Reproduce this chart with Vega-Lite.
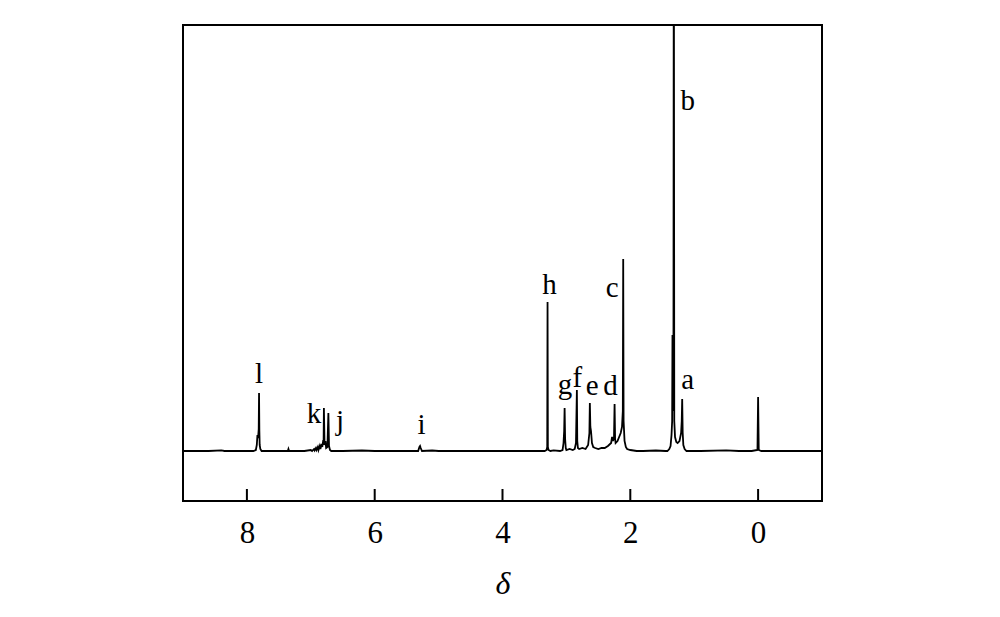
{
  "$schema": "https://vega.github.io/schema/vega-lite/v6.json",
  "width": 639,
  "height": 476,
  "autosize": "none",
  "padding": {"left": 183, "top": 25, "right": 178, "bottom": 116},
  "background": "white",
  "config": {
    "view": {"stroke": "black", "strokeWidth": 2},
    "font": "Liberation Serif"
  },
  "datasets": {
    "spec": [
      {"d": 9.0, "v": 0}, {"d": 8.6, "v": 0}, {"d": 8.4, "v": 0.6}, {"d": 8.35, "v": 0}, {"d": 8.0, "v": 0},
      {"d": 7.9, "v": 0}, {"d": 7.86, "v": 1}, {"d": 7.845, "v": 6}, {"d": 7.835, "v": 16}, {"d": 7.825, "v": 13},
      {"d": 7.815, "v": 22}, {"d": 7.81, "v": 58}, {"d": 7.805, "v": 20}, {"d": 7.8, "v": 6}, {"d": 7.79, "v": 2},
      {"d": 7.77, "v": 0}, {"d": 7.6, "v": 0}, {"d": 7.36, "v": 0}, {"d": 7.35, "v": 2}, {"d": 7.34, "v": 0},
      {"d": 7.1, "v": 0}, {"d": 7.0, "v": 1}, {"d": 6.98, "v": 0}, {"d": 6.95, "v": 2}, {"d": 6.94, "v": 0.5},
      {"d": 6.92, "v": 3}, {"d": 6.91, "v": 1}, {"d": 6.89, "v": 4}, {"d": 6.88, "v": 1}, {"d": 6.86, "v": 5},
      {"d": 6.85, "v": 2}, {"d": 6.83, "v": 7}, {"d": 6.82, "v": 4}, {"d": 6.805, "v": 11}, {"d": 6.8, "v": 6},
      {"d": 6.795, "v": 43}, {"d": 6.785, "v": 6}, {"d": 6.77, "v": 10}, {"d": 6.76, "v": 3}, {"d": 6.74, "v": 4},
      {"d": 6.725, "v": 38}, {"d": 6.715, "v": 5}, {"d": 6.7, "v": 1}, {"d": 6.68, "v": 0}, {"d": 6.5, "v": 0},
      {"d": 6.2, "v": 0.5}, {"d": 6.0, "v": 0}, {"d": 5.5, "v": 0}, {"d": 5.32, "v": 0}, {"d": 5.3, "v": 4},
      {"d": 5.29, "v": 5}, {"d": 5.28, "v": 3}, {"d": 5.26, "v": 0}, {"d": 5.1, "v": 0.5}, {"d": 5.0, "v": 0},
      {"d": 4.5, "v": 0}, {"d": 4.0, "v": 0}, {"d": 3.5, "v": 0}, {"d": 3.34, "v": 0}, {"d": 3.31, "v": 1},
      {"d": 3.3, "v": 4}, {"d": 3.295, "v": 149}, {"d": 3.29, "v": 4}, {"d": 3.28, "v": 1}, {"d": 3.25, "v": 0},
      {"d": 3.2, "v": 0.6}, {"d": 3.1, "v": 0}, {"d": 3.06, "v": 1}, {"d": 3.045, "v": 8}, {"d": 3.035, "v": 20},
      {"d": 3.028, "v": 43}, {"d": 3.02, "v": 12}, {"d": 3.01, "v": 3}, {"d": 3.0, "v": 1}, {"d": 2.95, "v": 2},
      {"d": 2.9, "v": 1}, {"d": 2.87, "v": 2}, {"d": 2.85, "v": 8}, {"d": 2.836, "v": 61}, {"d": 2.83, "v": 10},
      {"d": 2.82, "v": 3}, {"d": 2.8, "v": 2}, {"d": 2.75, "v": 3}, {"d": 2.7, "v": 2}, {"d": 2.66, "v": 6},
      {"d": 2.64, "v": 18}, {"d": 2.633, "v": 48}, {"d": 2.625, "v": 24}, {"d": 2.615, "v": 20}, {"d": 2.6, "v": 8},
      {"d": 2.58, "v": 4}, {"d": 2.55, "v": 3}, {"d": 2.5, "v": 2}, {"d": 2.45, "v": 3}, {"d": 2.4, "v": 3},
      {"d": 2.35, "v": 5}, {"d": 2.3, "v": 8}, {"d": 2.285, "v": 14}, {"d": 2.27, "v": 10}, {"d": 2.255, "v": 14},
      {"d": 2.246, "v": 47}, {"d": 2.238, "v": 12}, {"d": 2.23, "v": 8}, {"d": 2.2, "v": 10}, {"d": 2.15, "v": 18},
      {"d": 2.13, "v": 24}, {"d": 2.117, "v": 40}, {"d": 2.111, "v": 192}, {"d": 2.105, "v": 30}, {"d": 2.09, "v": 10},
      {"d": 2.07, "v": 4}, {"d": 2.05, "v": 2}, {"d": 2.0, "v": 1}, {"d": 1.9, "v": 0}, {"d": 1.8, "v": 0},
      {"d": 1.6, "v": 0.5}, {"d": 1.45, "v": 0}, {"d": 1.42, "v": 0}, {"d": 1.39, "v": 2}, {"d": 1.37, "v": 5},
      {"d": 1.355, "v": 16}, {"d": 1.345, "v": 30}, {"d": 1.34, "v": 116}, {"d": 1.333, "v": 40}, {"d": 1.325, "v": 60},
      {"d": 1.319, "v": 600}, {"d": 1.312, "v": 30}, {"d": 1.3, "v": 14}, {"d": 1.28, "v": 9}, {"d": 1.26, "v": 8},
      {"d": 1.23, "v": 10}, {"d": 1.205, "v": 18}, {"d": 1.195, "v": 30}, {"d": 1.188, "v": 52}, {"d": 1.18, "v": 18},
      {"d": 1.17, "v": 6}, {"d": 1.15, "v": 2}, {"d": 1.12, "v": 0}, {"d": 1.05, "v": 0}, {"d": 0.9, "v": 0},
      {"d": 0.5, "v": 0.6}, {"d": 0.3, "v": 0}, {"d": 0.1, "v": 0}, {"d": 0.01, "v": 1}, {"d": 0.0, "v": 54},
      {"d": -0.01, "v": 1}, {"d": -0.05, "v": 0}, {"d": -0.3, "v": 0}, {"d": -0.6, "v": 0}, {"d": -1.0, "v": 0}
    ],
    "labels": [
      {"d": 7.81, "v": 68, "t": "l"},
      {"d": 6.948, "v": 28, "t": "k"},
      {"d": 6.541, "v": 21, "t": "j"},
      {"d": 5.269, "v": 17, "t": "i"},
      {"d": 3.263, "v": 157, "t": "h"},
      {"d": 3.023, "v": 57, "t": "g"},
      {"d": 2.83, "v": 64, "t": "f"},
      {"d": 2.595, "v": 56, "t": "e"},
      {"d": 2.309, "v": 56, "t": "d"},
      {"d": 2.282, "v": 154, "t": "c"},
      {"d": 1.1, "v": 341, "t": "b"},
      {"d": 1.1, "v": 62, "t": "a"}
    ],
    "ticks": [
      {"d": 8}, {"d": 6}, {"d": 4}, {"d": 2}, {"d": 0}
    ]
  },
  "layer": [
    {
      "data": {"name": "spec"},
      "mark": {"type": "line", "color": "black", "strokeWidth": 1.8, "clip": true},
      "encoding": {
        "x": {
          "field": "d", "type": "quantitative",
          "scale": {"domain": [9, -1], "nice": false, "zero": false},
          "axis": {
            "values": [8, 6, 4, 2, 0],
            "format": "d",
            "title": "δ",
            "titleFont": "Liberation Serif",
            "titleFontStyle": "italic",
            "titleFontWeight": "normal",
            "titleFontSize": 32,
            "titleColor": "black",
            "titlePadding": 20,
            "labelFont": "Liberation Serif",
            "labelFontSize": 31,
            "labelColor": "black",
            "labelPadding": 17,
            "ticks": false,
            "domain": false,
            "grid": false
          }
        },
        "y": {
          "field": "v", "type": "quantitative",
          "scale": {"domain": [-50, 426], "nice": false, "zero": false},
          "axis": null
        }
      }
    },
    {
      "data": {"name": "ticks"},
      "mark": {"type": "rule", "color": "black", "strokeWidth": 2},
      "encoding": {
        "x": {"field": "d", "type": "quantitative"},
        "y": {"datum": -50},
        "y2": {"datum": -38}
      }
    },
    {
      "data": {"name": "labels"},
      "mark": {"type": "text", "font": "Liberation Serif", "fontSize": 29, "color": "black", "baseline": "alphabetic", "align": "center"},
      "encoding": {
        "x": {"field": "d", "type": "quantitative"},
        "y": {"field": "v", "type": "quantitative"},
        "text": {"field": "t"}
      }
    }
  ]
}
